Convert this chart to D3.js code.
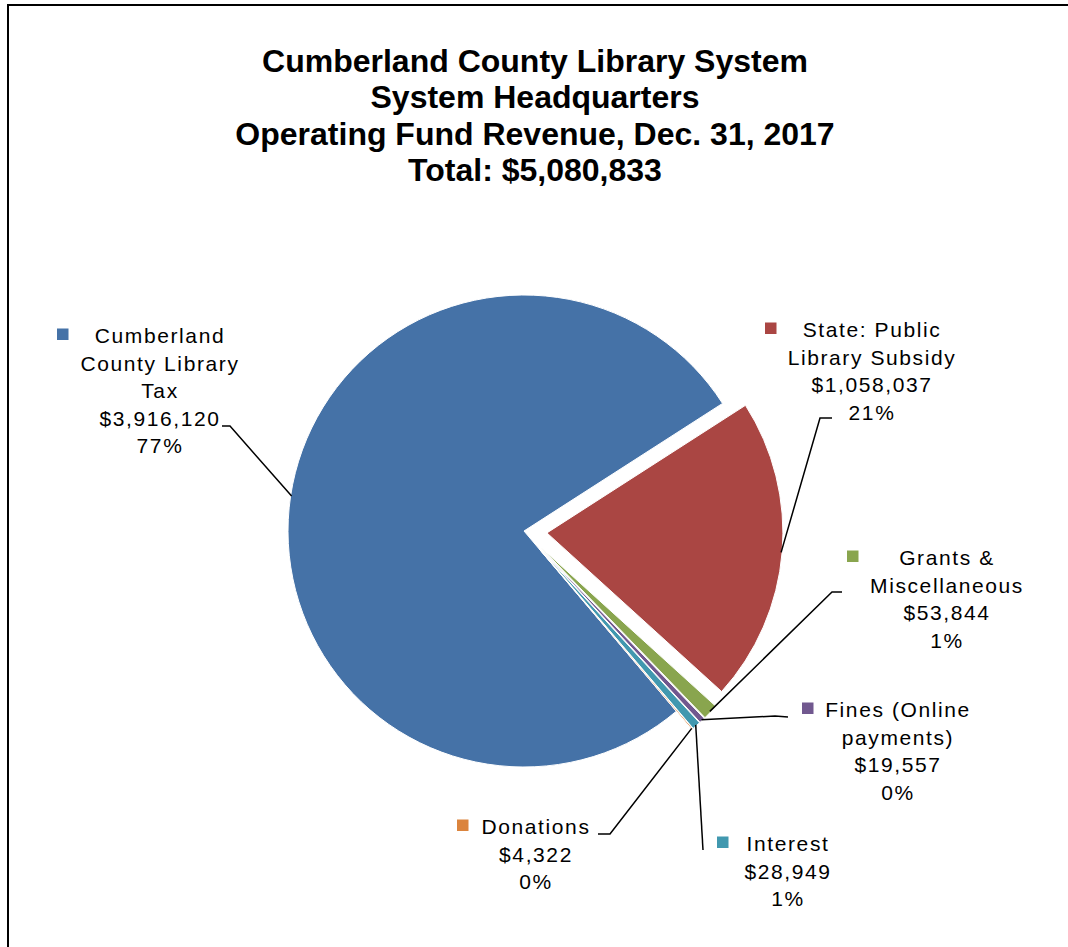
<!DOCTYPE html>
<html>
<head>
<meta charset="utf-8">
<script src="https://cdn.jsdelivr.net/npm/d3@7"></script>
<style>
  body { margin: 0; background: #fff; }
  svg { display: block; }
</style>
</head>
<body>
<div id="chart"></div>
<script>
// Data
var categories = [
    'Cumberland County Library Tax',
    'State: Public Library Subsidy',
    'Grants & Miscellaneous',
    'Fines (Online payments)',
    'Interest',
    'Donations'
];
var labelLines = [
    ['Cumberland', 'County Library', 'Tax'],
    ['State: Public', 'Library Subsidy'],
    ['Grants &', 'Miscellaneous'],
    ['Fines (Online', 'payments)'],
    ['Interest'],
    ['Donations']
];
var values = [3916120, 1058037, 53844, 19557, 28949, 4322];
var colors = ['#4572A7', '#AA4643', '#89A54E', '#71588F', '#4198AF', '#DB843D'];
var titleLines = [
    'Cumberland County Library System',
    'System Headquarters',
    'Operating Fund Revenue, Dec. 31, 2017',
    'Total: $5,080,833'
];

var total = d3.sum(values);

// Layout
var W = 1068, H = 947;
var cx = 524, cy = 531, R = 236;
var explode = [0, 23, 24, 24, 24, 24];
// label layout: text centre x, first baseline y, key left x, elbow and end of leader
var labelLayout = [
    { x: 160, y: 343, key: 57,  end: [222, 426], elbow: [230, 426] },
    { x: 872, y: 337, key: 765, end: [832, 418], elbow: [820, 418] },
    { x: 947, y: 565, key: 847, end: [842, 592], elbow: [832, 592] },
    { x: 898, y: 717, key: 802, end: [788, 717], elbow: [775, 716] },
    { x: 788, y: 851, key: 717, end: [703, 850], elbow: [703, 850] },
    { x: 536, y: 834, key: 457, end: [598, 834], elbow: [610, 834] }
];
var lineH = 27.6;

var svg = d3.select('#chart').append('svg')
    .attr('width', W)
    .attr('height', H);

// Frame (only top and left edges are inside the picture)
svg.append('path')
    .attr('d', 'M8,' + H + ' L8,5 L' + W + ',5')
    .attr('fill', 'none')
    .attr('stroke', '#000')
    .attr('stroke-width', 2);

// Title
var title = svg.append('text')
    .attr('text-anchor', 'middle')
    .style('font-family', '"Liberation Sans", Arial, sans-serif')
    .style('font-weight', 'bold')
    .style('font-size', '32px');
titleLines.forEach(function (t, i) {
    title.append('tspan')
        .attr('x', 535)
        .attr('y', 72 + i * 36.3)
        .text(t);
});

// Pie
var start = 139.8 * Math.PI / 180;
var pie = d3.pie()
    .sort(null)
    .startAngle(start)
    .endAngle(start + 2 * Math.PI)
    .value(function (d) { return d; });

var arcs = pie(values);
var arc = d3.arc().innerRadius(0).outerRadius(R);

function offset(d, i) {
    var mid = (d.startAngle + d.endAngle) / 2;
    return [explode[i] * Math.sin(mid), -explode[i] * Math.cos(mid)];
}

var g = svg.append('g')
    .attr('transform', 'translate(' + cx + ',' + cy + ')');

g.selectAll('.slice')
    .data(arcs)
    .enter()
    .append('path')
    .attr('class', 'slice')
    .attr('d', arc)
    .attr('transform', function (d, i) {
        var o = offset(d, i);
        return 'translate(' + o[0] + ',' + o[1] + ')';
    })
    .attr('fill', function (d, i) { return colors[i]; })
    .attr('stroke', '#fff')
    .attr('stroke-width', 1);

// Leader lines
arcs.forEach(function (d, i) {
    var o = offset(d, i);
    var mid = (d.startAngle + d.endAngle) / 2;
    var px = cx + o[0] + (R - 1) * Math.sin(mid);
    var py = cy + o[1] - (R - 1) * Math.cos(mid);
    var L = labelLayout[i];
    svg.append('polyline')
        .attr('points', [L.end, L.elbow, [px, py]].map(function (p) { return p.join(','); }).join(' '))
        .attr('fill', 'none')
        .attr('stroke', '#000')
        .attr('stroke-width', 1.5);
});

// Labels
var fmtMoney = d3.format('$,');
var fmtPct = d3.format('.0%');

arcs.forEach(function (d, i) {
    var L = labelLayout[i];
    var lines = labelLines[i].concat([fmtMoney(values[i]), fmtPct(values[i] / total)]);

    svg.append('rect')
        .attr('x', L.key)
        .attr('y', L.y - 14.5)
        .attr('width', 11.5)
        .attr('height', 11.5)
        .attr('fill', colors[i]);

    var t = svg.append('text')
        .attr('text-anchor', 'middle')
        .style('font-family', '"Liberation Sans", Arial, sans-serif')
        .style('font-size', '21px')
        .style('letter-spacing', '1.6px')
        .attr('fill', '#000');
    lines.forEach(function (s, j) {
        t.append('tspan')
            .attr('x', L.x)
            .attr('y', L.y + j * lineH)
            .text(s);
    });
});
</script>
</body>
</html>
